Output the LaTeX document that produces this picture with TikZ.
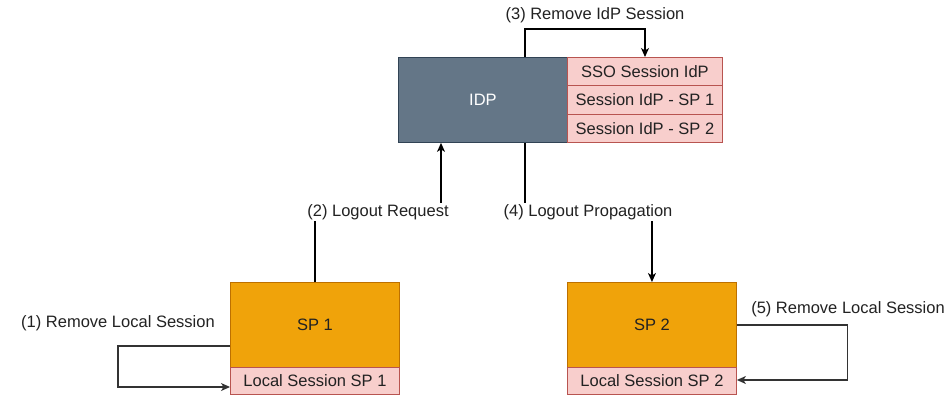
\documentclass[tikz,border=0pt]{standalone}
\usepackage{fontspec}
\setmainfont{Liberation Sans}
\usetikzlibrary{arrows.meta,calc}
\definecolor{idpfill}{HTML}{647687}
\definecolor{idpline}{HTML}{314354}
\definecolor{spfill}{HTML}{F0A30A}
\definecolor{spline}{HTML}{BD7000}
\definecolor{pkfill}{HTML}{F8CECC}
\definecolor{pkline}{HTML}{B85450}
\definecolor{txt}{HTML}{222222}
\tikzset{
  base/.style={rectangle,inner sep=0pt,anchor=north west,font=\fontsize{16.5}{19}\selectfont,text=txt,line width=0.9pt},
  idpbox/.style={base,fill=idpfill,draw=idpline,text=white,minimum width=169pt,minimum height=85pt},
  spbox/.style={base,fill=spfill,draw=spline,minimum width=169pt,minimum height=85pt},
  pkrow/.style={base,fill=pkfill,draw=pkline,minimum width=155pt,minimum height=28.33pt},
  pksp/.style={base,fill=pkfill,draw=pkline,minimum width=169pt,minimum height=27pt},
  lbl/.style={inner sep=1pt,fill=white,font=\fontsize{16.5}{19}\selectfont,text=txt},
  conn/.style={draw=black,line width=1.1pt,-{Stealth[length=9pt,width=8pt,inset=2.5pt]}},
  loopc/.style={draw=black!80,line width=1.1pt,-{Stealth[length=9pt,width=8pt,inset=2.5pt]}}
}
\begin{document}
\begin{tikzpicture}[x=1pt,y=-1pt]
\useasboundingbox (0,0) rectangle (952,396);
% IDP
\node[idpbox] (idp) at (398,57) {IDP};
\node[pkrow] (r1) at (567,57) {SSO Session IdP};
\node[pkrow] (r2) at (567,85.33) {Session IdP - SP 1};
\node[pkrow] (r3) at (567,113.67) {Session IdP - SP 2};
% SP1
\node[spbox] (sp1) at (230,282) {SP 1};
\node[pksp] (ls1) at (230,367) {Local Session SP 1};
% SP2
\node[spbox] (sp2) at (567,282) {SP 2};
\node[pksp] (ls2) at (567,367) {Local Session SP 2};
% coordinates
\coordinate (idpIn) at ([xshift=43pt]idp.south west);
\coordinate (idpOut) at ([xshift=127pt]idp.south west);
\coordinate (idpTop) at ([xshift=127pt]idp.north west);
\coordinate (r1top) at ([xshift=78pt]r1.north west);
\coordinate (sp1L) at ([yshift=-64pt]sp1.north west);
\coordinate (ls1L) at ([yshift=-20pt]ls1.north west);
\coordinate (sp2R) at ([yshift=-43pt]sp2.north east);
\coordinate (ls2R) at ([yshift=-13pt]ls2.north east);
\coordinate (c2) at (378,212);
\coordinate (c4) at (588,212);
% (3)
\draw[conn] (idpTop) -- ++(0,-28) -| (r1top);
\node[lbl] (l3) at (595,15) {(3) Remove IdP Session};
% (2)
\draw[conn] (sp1.north) |- (c2) -| (idpIn);
\node[lbl] (l2) at (c2) {(2) Logout Request};
% (4)
\draw[conn] (idpOut) |- (c4) -| (sp2.north);
\node[lbl] (l4) at (c4) {(4) Logout Propagation};
% (1)
\draw[loopc] (sp1L) -- ++(-112,0) |- (ls1L);
\node[lbl] (l1) at (118,323) {(1) Remove Local Session};
% (5)
\draw[loopc] (sp2R) -- ++(111,0) |- (ls2R);
\node[lbl] (l5) at (848,309) {(5) Remove Local Session};
\end{tikzpicture}
\end{document}
